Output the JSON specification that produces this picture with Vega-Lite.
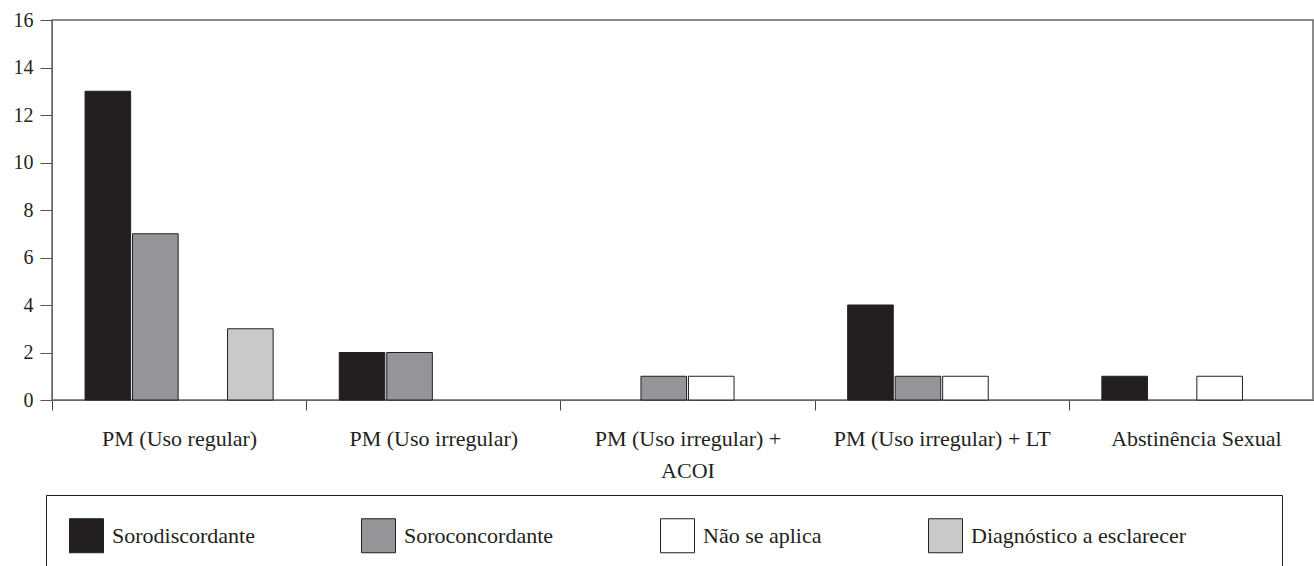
{
  "$schema": "https://vega.github.io/schema/vega-lite/v6.json",
  "width": 1261,
  "height": 380,
  "autosize": "none",
  "padding": {"left": 52, "top": 20, "right": 1, "bottom": 166},
  "background": "white",
  "config": {
    "font": "Liberation Serif",
    "view": {"stroke": "#666666", "strokeWidth": 1.5}
  },
  "data": {
    "values": [
      {"metodo": "PM (Uso regular)", "situacao": "Sorodiscordante", "n": 13},
      {"metodo": "PM (Uso regular)", "situacao": "Soroconcordante", "n": 7},
      {"metodo": "PM (Uso regular)", "situacao": "Diagnóstico a esclarecer", "n": 3},
      {"metodo": "PM (Uso irregular)", "situacao": "Sorodiscordante", "n": 2},
      {"metodo": "PM (Uso irregular)", "situacao": "Soroconcordante", "n": 2},
      {"metodo": "PM (Uso irregular) + ACOI", "situacao": "Soroconcordante", "n": 1},
      {"metodo": "PM (Uso irregular) + ACOI", "situacao": "Não se aplica", "n": 1},
      {"metodo": "PM (Uso irregular) + LT", "situacao": "Sorodiscordante", "n": 4},
      {"metodo": "PM (Uso irregular) + LT", "situacao": "Soroconcordante", "n": 1},
      {"metodo": "PM (Uso irregular) + LT", "situacao": "Não se aplica", "n": 1},
      {"metodo": "Abstinência Sexual", "situacao": "Sorodiscordante", "n": 1},
      {"metodo": "Abstinência Sexual", "situacao": "Não se aplica", "n": 1}
    ]
  },
  "mark": {"type": "bar", "stroke": "#231f20", "strokeWidth": 1},
  "encoding": {
    "x": {
      "field": "metodo",
      "type": "nominal",
      "sort": ["PM (Uso regular)", "PM (Uso irregular)", "PM (Uso irregular) + ACOI", "PM (Uso irregular) + LT", "Abstinência Sexual"],
      "scale": {"range": [0, 1271], "paddingInner": 0, "paddingOuter": 0},
      "axis": {
        "title": null,
        "labelAngle": 0,
        "tickBand": "extent",
        "tickSize": 10,
        "tickColor": "#444444",
        "domainColor": "#666666",
        "labelPadding": 18,
        "labelFontSize": 22,
        "labelLineHeight": 32,
        "labelColor": "#231f20",
        "labelLimit": 400,
        "labelExpr": "datum.value == 'PM (Uso irregular) + ACOI' ? ['PM (Uso irregular)  +', 'ACOI'] : datum.label"
      }
    },
    "xOffset": {
      "field": "situacao",
      "type": "nominal",
      "scale": {"domain": ["Sorodiscordante", "Soroconcordante", "Não se aplica", "Diagnóstico a esclarecer"], "paddingInner": 0.04, "paddingOuter": 0.696}
    },
    "y": {
      "field": "n",
      "type": "quantitative",
      "scale": {"domain": [0, 16]},
      "axis": {
        "title": null,
        "values": [0, 2, 4, 6, 8, 10, 12, 14, 16],
        "grid": false,
        "tickSize": 12,
        "tickColor": "#555555",
        "domainColor": "#666666",
        "labelPadding": 7,
        "labelFontSize": 20,
        "labelColor": "#231f20"
      }
    },
    "fill": {
      "field": "situacao",
      "type": "nominal",
      "scale": {
        "domain": ["Sorodiscordante", "Soroconcordante", "Não se aplica", "Diagnóstico a esclarecer"],
        "range": ["#231f20", "#939598", "#ffffff", "#c8c9cb"]
      },
      "legend": {
        "title": " ",
        "titleOrient": "right",
        "titlePadding": 73,
        "orient": "none",
        "legendX": -6,
        "legendY": 475,
        "direction": "horizontal",
        "columns": 4,
        "gridAlign": "each",
        "columnPadding": 104,
        "symbolType": "square",
        "symbolSize": 1156,
        "symbolStrokeColor": "#231f20",
        "symbolStrokeWidth": 1,
        "symbolOpacity": 1,
        "labelFontSize": 22,
        "labelOffset": 8,
        "labelColor": "#231f20",
        "labelLimit": 400,
        "strokeColor": "#231f20",
        "fillColor": "#ffffff",
        "padding": 23
      }
    }
  }
}
